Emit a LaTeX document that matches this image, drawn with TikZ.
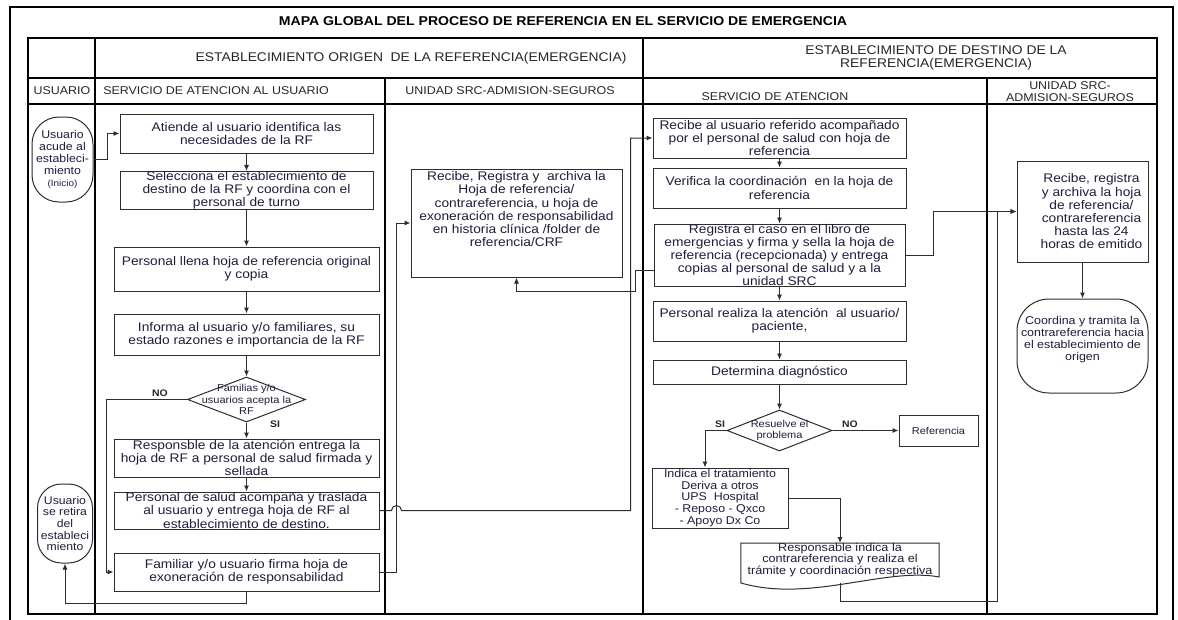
\documentclass[tikz,border=0pt]{standalone}
\usepackage{fontspec}
\setmainfont{Liberation Sans}[FakeStretch=1.1]
\usetikzlibrary{arrows.meta,calc,shapes.geometric}
\definecolor{txt}{RGB}{30,30,62}
\definecolor{ln}{RGB}{45,45,45}
\begin{document}
\begin{tikzpicture}[x=1pt,y=-1pt,
  every node/.style={text=txt},
  body/.style={font=\fontsize{12.5}{13.2}\selectfont},
  box/.style={body,draw=ln,line width=1pt,rectangle,inner sep=0pt,align=center},
  term/.style={draw=ln,line width=1pt,rectangle,inner sep=0pt,align=center,font=\fontsize{11.2}{12}\selectfont},
  dec/.style={draw=ln,line width=1pt,diamond,inner sep=0pt},
  small/.style={font=\fontsize{10}{11.5}\selectfont,align=center},
  head/.style={text=black!85,align=center},
  yn/.style={font=\bfseries\fontsize{9.5}{10}\selectfont,text=black!85},
  arr/.style={draw=ln,line width=1pt,-{Latex[length=6pt,width=5pt]}},
  con/.style={draw=ln,line width=1pt},
  grid/.style={draw=black,line width=1.2pt},
]
\useasboundingbox (0,0) rectangle (1178,619);
\clip (0,0) rectangle (1178,619);
\fill[white] (0,0) rectangle (1178,619);

% frame and table
\draw[grid,line width=1.4pt] (10,7) rectangle (1173,640);
\node[font=\bfseries\fontsize{12.8}{13}\selectfont,text=black] (title) at (563,21) {MAPA GLOBAL DEL PROCESO DE REFERENCIA EN EL SERVICIO DE EMERGENCIA};
\draw[grid] (28,38) rectangle (1157,614);
\draw[grid] (28,78) -- (1157,78);
\draw[grid] (28,104) -- (1157,104);
\draw[grid] (95,38) -- (95,614);
\draw[grid] (643,38) -- (643,614);
\draw[grid] (385,78) -- (385,614);
\draw[grid] (987,78) -- (987,614);

\node[head,font=\fontsize{12.6}{13}\selectfont] (h1) at (411,58) {ESTABLECIMIENTO ORIGEN\ \ DE LA REFERENCIA(EMERGENCIA)};
\node[head,font=\fontsize{12.6}{12.5}\selectfont] (h2) at (936,58) {ESTABLECIMIENTO DE DESTINO DE LA\\REFERENCIA(EMERGENCIA)};
\node[head,font=\fontsize{11.3}{12}\selectfont] (l1) at (62,91) {USUARIO};
\node[head,font=\fontsize{11.3}{12}\selectfont] (l2) at (216,91) {SERVICIO DE ATENCION AL USUARIO};
\node[head,font=\fontsize{11.3}{12}\selectfont] (l3) at (510,91) {UNIDAD SRC-ADMISION-SEGUROS};
\node[head,font=\fontsize{11.3}{12}\selectfont] (l4) at (775,97) {SERVICIO DE ATENCION};
\node[head,font=\fontsize{11.3}{12}\selectfont] (l5) at (1070,92) {UNIDAD SRC-\\ADMISION-SEGUROS};

% USUARIO lane
\node[term,minimum width=61pt,minimum height=85pt,rounded corners=27pt] (start) at (62.5,159.5)
  {Usuario\\acude al\\estableci-\\miento\\{\fontsize{9}{10}\selectfont (Inicio)}};
\node[term,minimum width=55pt,minimum height=79pt,rounded corners=24pt,font=\fontsize{11.1}{11.7}\selectfont] (end) at (65,523.5)
  {Usuario\\se retira\\del\\estableci\\miento};

% SERVICIO DE ATENCION AL USUARIO lane
\node[box,minimum width=253pt,minimum height=39pt] (A) at (246.5,133.5) {Atiende al usuario identifica las\\necesidades de la RF};
\node[box,minimum width=253pt,minimum height=37pt] (B) at (246.5,190.5) {Selecciona el establecimiento de\\destino de la RF y coordina con el\\personal de turno};
\node[box,minimum width=265pt,minimum height=44pt] (C) at (246.5,269) {Personal llena hoja de referencia original\\y copia};
\node[box,minimum width=265pt,minimum height=41pt] (D) at (246.5,334.5) {Informa al usuario y/o familiares, su\\estado razones e importancia de la RF};
\node[dec,minimum width=118pt,minimum height=45pt,label={[small,inner sep=0pt]center:{Familias y/o\\usuarios acepta la\\RF}}] (d1) at (246.5,399.5) {};
\node[box,minimum width=265pt,minimum height=38pt] (E) at (246.5,458) {Responsble de la atención entrega la\\hoja de RF a personal de salud firmada y\\sellada};
\node[box,minimum width=265pt,minimum height=37pt] (F) at (246.5,510.5) {Personal de salud acompaña y traslada\\al usuario y entrega hoja de RF al\\establecimiento de destino.};
\node[box,minimum width=265pt,minimum height=38pt] (G) at (246.5,572) {Familiar y/o usuario firma hoja de\\exoneración de responsabilidad};
\node[yn] (no1) at (160,393) {NO};
\node[yn] (si1) at (275,424) {SI};

% UNIDAD SRC (origen)
\node[box,minimum width=211pt,minimum height=108pt,
  label={[body,align=center,anchor=north,inner sep=3pt]north:{Recibe, Registra y\ \ archiva la\\Hoja de referencia/\\contrareferencia, u hoja de\\exoneración de responsabilidad\\en historia clínica /folder de\\referencia/CRF}}] (I) at (516.5,223) {};

% SERVICIO DE ATENCION (destino)
\node[box,minimum width=253pt,minimum height=40pt] (H) at (779.5,138) {Recibe al usuario referido acompañado\\por el personal de salud con hoja de\\referencia};
\node[box,minimum width=253pt,minimum height=40pt] (J) at (779.5,188) {Verifica la coordinación\ \ en la hoja de\\referencia};
\node[box,minimum width=251pt,minimum height=62pt] (K) at (779.5,255) {Registra el caso en el libro de\\emergencias y firma y sella la hoja de\\referencia (recepcionada) y entrega\\copias al personal de salud y a la\\unidad SRC};
\node[box,minimum width=253pt,minimum height=40pt] (L) at (779.5,321) {Personal realiza la atención\ \ al usuario/\\paciente,};
\node[box,minimum width=253pt,minimum height=24pt] (N) at (779.5,372) {Determina diagnóstico};
\node[dec,minimum width=105pt,minimum height=41pt,label={[small,inner sep=0pt]center:{Resuelve el\\problema}}] (d2) at (779.5,430.5) {};
\node[box,minimum width=79pt,minimum height=31pt,font=\fontsize{10}{11}\selectfont] (R) at (938.5,430.5) {Referencia};
\node[yn] (si2) at (720,424) {SI};
\node[yn] (no2) at (850,424) {NO};
\node[box,minimum width=136pt,minimum height=60pt,font=\fontsize{11.3}{11.6}\selectfont] (O) at (720,498) {Indica el tratamiento\\Deriva a otros\\UPS\ \ Hospital\\- Reposo - Qxco\\- Apoyo Dx Co};
\node[inner sep=0pt,minimum width=198pt,minimum height=32pt,align=center,font=\fontsize{11.5}{11.4}\selectfont] (P) at (840,560) {Responsable indica la\\contrareferencia y realiza el\\trámite y coordinación respectiva};
\draw[con] (P.north west) -- (P.north east) -- (P.south east)
  .. controls ([shift={(-54pt,10pt)}]P.south east) and ([shift={(69pt,-26pt)}]P.south west) .. ([yshift=-6pt]P.south west) -- cycle;

% UNIDAD SRC (destino)
\node[box,minimum width=131pt,minimum height=101pt,
  label={[body,align=center,xshift=9pt]center:{Recibe, registra\\y archiva la hoja\\de referencia/\\contrareferencia\\hasta las 24\\horas de emitido}}] (M) at (1082.5,211.5) {};
\node[term,minimum width=131pt,minimum height=94pt,rounded corners=32pt,
  label={[font=\fontsize{11.3}{12}\selectfont,align=center,yshift=6pt]center:{Coordina y tramita la\\contrareferencia hacia\\el establecimiento de\\origen}}] (Q) at (1082.5,346) {};

% connectors
\draw[arr] (start.east) -- ++(14,0) |- (A.west);
\draw[arr] (A) -- (B);
\draw[arr] (B) -- (C);
\draw[arr] (C) -- (D);
\draw[arr] (D) -- (d1);
\draw[arr] (d1) -- (E);
\draw[arr] (E) -- (F);
\draw[arr] (d1.west) -- ++(-81,0) |- (G.west);
\draw[arr] (G.south) -- ++(0,12) -| (end.south);
\draw[arr] (F.east) -- ++(12,0) arc[start angle=180,end angle=0,radius=5pt] -- ++(229,0) |- (H.west);
\draw[arr] (G.east) -- ++(17,0) |- (I.west);
\draw[arr] (H) -- (J);
\draw[arr] (J) -- (K);
\draw[arr] (K) -- (L);
\draw[arr] (L) -- (N);
\draw[arr] (N) -- (d2);
\draw[arr] ([yshift=-15pt]K.west) -- ++(-18,0) -- ++(0,21) -| (I.south);
\draw[arr] (K.east) -- ++(28,0) |- (M.west);
\draw[arr] (d2.east) -- (R.west);
\draw[arr] (d2.west) -| ([xshift=-15pt]O.north);
\draw[arr] (O.east) -| (P.north);
\draw[arr] ([yshift=-6pt]P.south) -- ++(0,19) -| ([xshift=-19pt]M.west) -- (M.west);
\draw[arr] (M) -- (Q);
\end{tikzpicture}
\end{document}
